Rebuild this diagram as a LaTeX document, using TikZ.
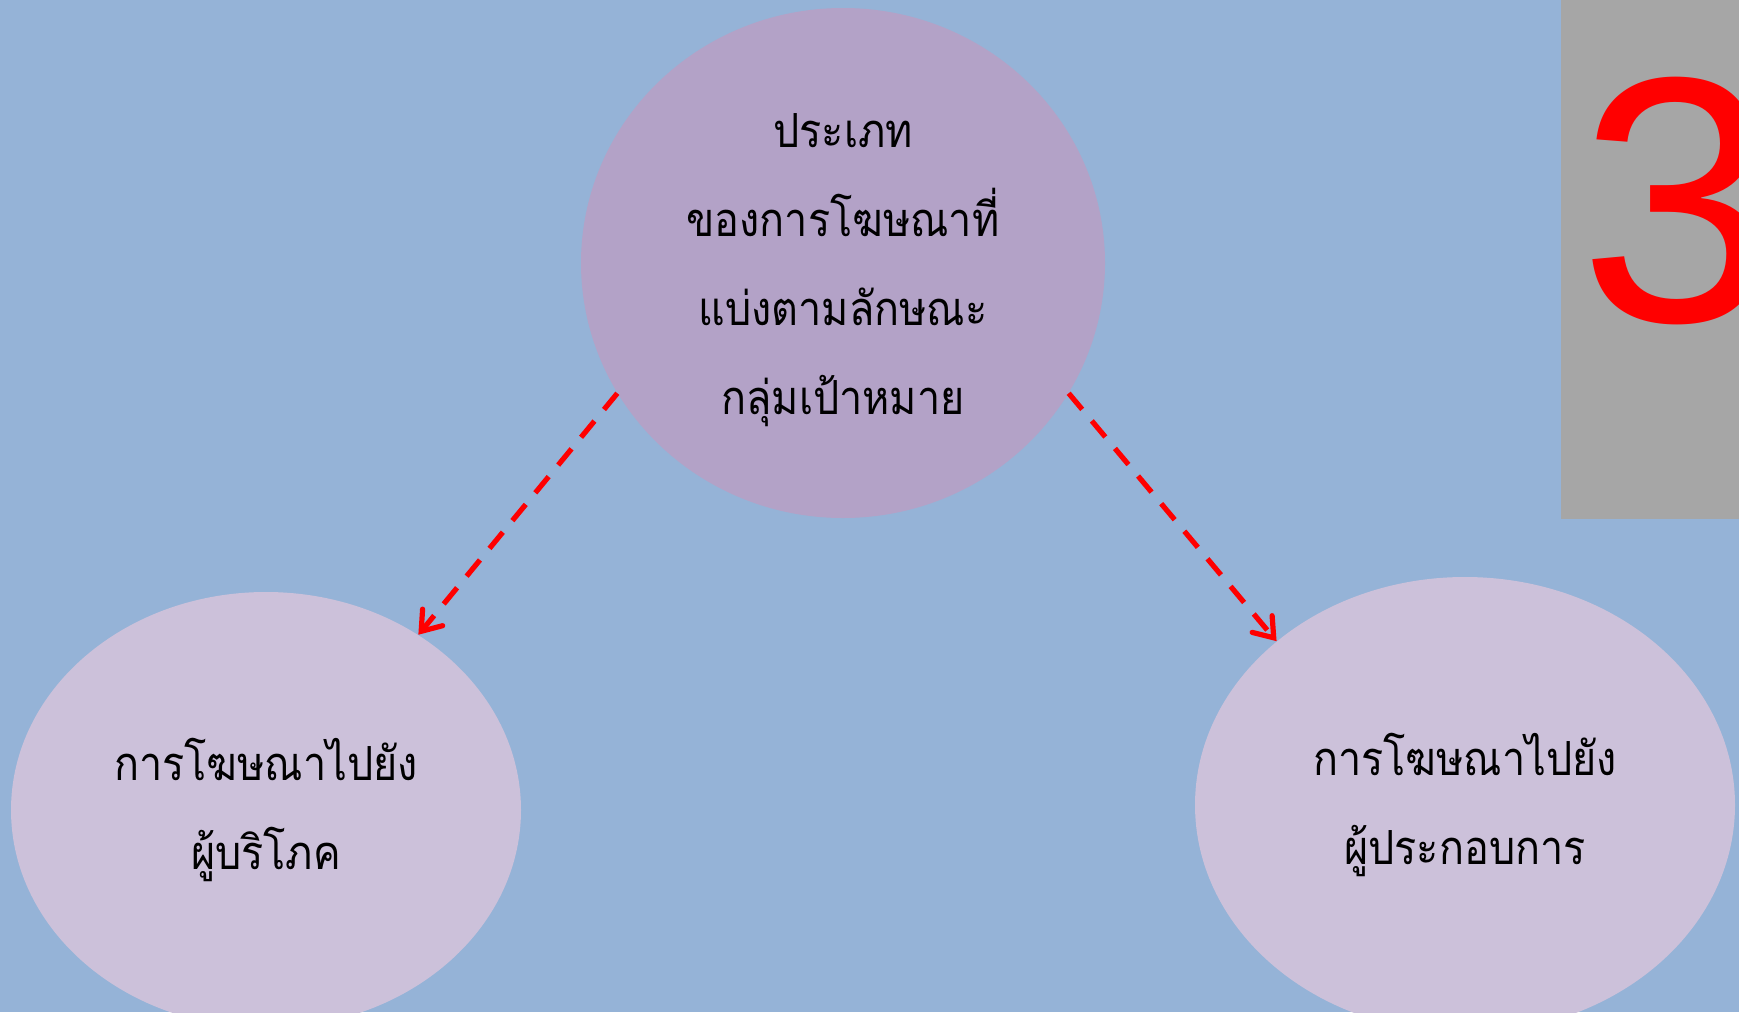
\documentclass[tikz,border=0pt]{standalone}
\usepackage{fontspec}
\newfontfamily\thaifont[Script=Thai, FakeStretch=0.88]{Loma}
\newfontfamily\numfont{Liberation Sans}
\usetikzlibrary{shapes.geometric, arrows.meta, positioning}
\definecolor{bgblue}{HTML}{95B3D7}
\definecolor{topviolet}{HTML}{B3A2C7}
\definecolor{lowviolet}{HTML}{CCC1DA}
\definecolor{sidegray}{HTML}{A6A6A6}
\tikzstyle{bubble} = [ellipse, inner sep=0pt, align=center, text=black, font=\thaifont\fontsize{23.5}{44.5}\selectfont]
\tikzstyle{dasharrow} = [draw=red, line width=2.6pt, dash pattern=on 10.5pt off 7.5pt, -{Straight Barb[length=9pt, width=13pt, line cap=round]}]

\begin{document}
\begin{tikzpicture}[x=0.5pt, y=-0.5pt]
    % Background
    \useasboundingbox (0,0) rectangle (1739,1012);
    \fill[bgblue] (0,0) rectangle (1739,1012);

    % Side tab with number
    \fill[sidegray] (1561,0) rectangle (1739,519);
    \node (num) [anchor=base west, inner sep=0pt, text=red, font=\numfont\fontsize{175}{175}\selectfont] at (1579,321) {3};

    % Ellipses
    \node (types) [bubble, fill=topviolet, minimum width=262pt, minimum height=255pt] at (843,263) {\rule{0pt}{24pt}ประเภท\\ของการโฆษณาที่\\แบ่งตามลักษณะ\\กลุ่มเป้าหมาย};
    \node (consumer) [bubble, fill=lowviolet, minimum width=255pt, minimum height=218pt] at (266,810) {การโฆษณาไปยัง\\ผู้บริโภค};
    \node (business) [bubble, fill=lowviolet, minimum width=270pt, minimum height=228pt] at (1465,805) {การโฆษณาไปยัง\\ผู้ประกอบการ};

    % Arrows
    \draw[dasharrow] (types.210) -- (consumer.49);
    \draw[dasharrow] (types.330) -- (business.139);
\end{tikzpicture}
\end{document}
